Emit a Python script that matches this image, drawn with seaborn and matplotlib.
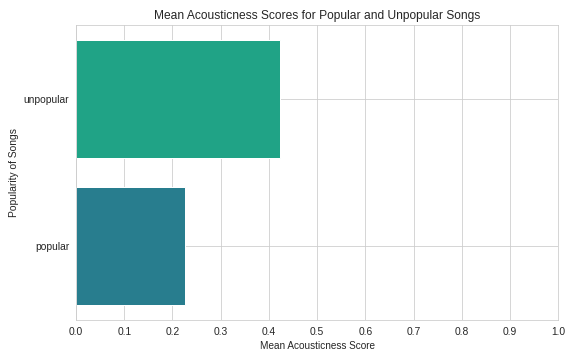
import matplotlib
matplotlib.use("Agg")
import matplotlib.pyplot as plt
import seaborn as sns
import pandas as pd

categories = ["unpopular", "popular"]
mean_acousticness = [0.424, 0.225]
bar_colors = ["#20a386", "#287d8e"]

sns.set_style("whitegrid")
plt.rcParams["font.family"] = ["Liberation Sans", "DejaVu Sans"]
df = pd.DataFrame({"popularity": categories, "acousticness": mean_acousticness})

fig = plt.figure(figsize=(8, 5), dpi=72)
ax = fig.add_axes([0.132, 0.111, 0.837, 0.819])
sns.barplot(data=df, y="popularity", x="acousticness", hue="popularity",
            order=categories, palette=bar_colors, saturation=1, legend=False,
            ax=ax, orient="h")
ax.set_xlim(0, 1)
ax.set_xticks([i / 10 for i in range(11)])
ax.yaxis.grid(True)
ax.xaxis.grid(True)
ax.set_axisbelow(True)
ax.set_title("Mean Acousticness Scores for Popular and Unpopular Songs", fontsize=12)
ax.set_xlabel("Mean Acousticness Score", fontsize=10)
ax.set_ylabel("Popularity of Songs", fontsize=10.2)
ax.tick_params(labelsize=10.3)
fig.savefig("out.png", dpi=72)
